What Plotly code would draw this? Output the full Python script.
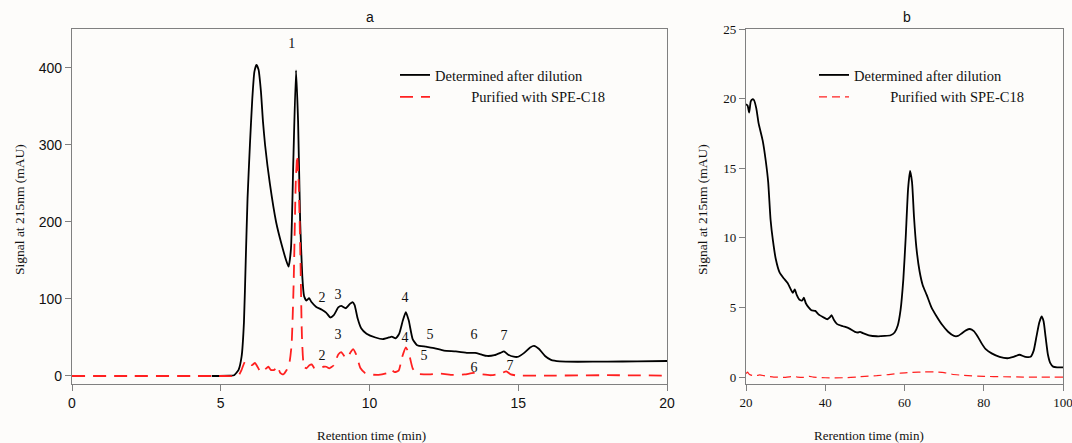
import plotly.graph_objects as go

# ---------- Panel a data ----------
a_det_x = [4.7, 5.3, 5.45, 5.6, 5.7, 5.78, 5.84, 5.9, 5.98, 6.06, 6.13, 6.2, 6.27, 6.35, 6.42, 6.49,
           6.65, 6.86, 7.05, 7.2, 7.28, 7.36, 7.44, 7.53, 7.6, 7.67, 7.74, 7.8, 7.88, 7.97, 8.05, 8.2,
           8.4, 8.55, 8.68, 8.8, 8.95, 9.05, 9.2, 9.35, 9.43, 9.5, 9.6, 9.72, 9.9, 10.2, 10.45, 10.65,
           10.75, 10.88, 11.0, 11.12, 11.22, 11.32, 11.45, 11.6, 11.9, 12.2, 12.5, 12.9, 13.3, 13.55,
           13.75, 13.95, 14.2, 14.4, 14.52, 14.65, 14.85, 15.0, 15.2, 15.4, 15.53, 15.7, 15.9, 16.1,
           16.4, 17.0, 18.0, 19.0, 20.0]
a_det_y = [0, 0.3, 1, 8, 25, 70, 150, 230, 300, 360, 395, 404, 398, 370, 330, 300,
           250, 200, 170, 150, 142, 165, 280, 397, 330, 200, 130, 104, 98, 101, 96, 90,
           86, 82, 76, 79, 89, 91, 88, 94, 96, 92, 75, 62, 55, 50, 48, 50,
           51, 49, 55, 72, 83, 72, 48, 40, 38, 36, 33, 32, 30, 30,
           28, 26, 27, 30, 32, 28, 25, 25, 30, 37, 39, 35, 26, 21,
           19, 18.5, 18.7, 19, 19.5]

a_pur_x = [0, 2.0, 4.0, 5.0, 5.45, 5.6, 5.7, 5.82, 5.95, 6.05, 6.15, 6.22, 6.35, 6.5, 6.6, 6.68,
           6.8, 6.9, 7.0, 7.1, 7.22, 7.3, 7.38, 7.45, 7.52, 7.57, 7.62, 7.68, 7.73, 7.8, 7.88, 7.98,
           8.06, 8.15, 8.3, 8.45, 8.55, 8.65, 8.8, 8.95, 9.05, 9.15, 9.25, 9.35, 9.45, 9.55, 9.7,
           9.85, 10.0, 10.3, 10.6, 10.72, 10.85, 10.98, 11.1, 11.22, 11.32, 11.45, 11.6, 12.0, 12.4,
           12.8, 13.2, 13.5, 13.8, 14.1, 14.4, 14.6, 14.75, 15.0, 16.0, 18.0, 20.0]
a_pur_y = [0, 0, 0, 0, 0, 1, 8, 19, 17, 14, 17, 13, 5, 9, 12, 8,
           8, 13, 4, 2, 8, 15, 40, 120, 250, 287, 250, 150, 50, 12, 10, 14,
           15, 10, 10, 12, 12, 10, 14, 28, 31, 26, 23, 30, 35, 28, 10,
           4, 2, 1.5, 4, 8, 5, 7, 25, 37, 30, 10, 3, 2, 3,
           1.5, 2, 4, 2, 1, 3, 6, 2, 0.5, 0.5, 1, 0.5]

# peak labels panel a
a_lab_det_text = ["1", "2", "3", "4", "5", "6", "7"]
a_lab_det_x = [7.39, 8.40, 8.94, 11.19, 12.03, 13.51, 14.52]
a_lab_det_y = [431, 100, 104, 100, 52, 52, 51]
a_lab_pur_text = ["2", "3", "4", "5", "6", "7"]
a_lab_pur_x = [8.40, 8.94, 11.19, 11.83, 13.51, 14.72]
a_lab_pur_y = [25, 52, 49, 25, 10, 12]

# ---------- Panel b data ----------
b_det_x = [20, 20.4, 20.8, 21.2, 21.6, 22, 22.6, 23.2, 24.2, 25, 25.6, 26.2, 26.8, 27.5, 28.5, 29.5,
           30.5, 31.3, 31.8, 32.3, 32.8, 33.5, 34.2, 34.6, 35.1, 35.8, 36.5, 37.5, 38.3, 39.5, 40.5,
           41.2, 41.6, 42.2, 43, 44.5, 46, 47.5, 48.3, 48.8, 49.5, 51, 53, 55, 56.5, 57.5, 58.3, 59,
           59.7, 60.3, 60.9, 61.4, 61.9, 62.4, 63, 63.8, 64.6, 65.6, 66.8, 68, 69.5, 71, 72.5, 73.5,
           74.5, 75.5, 76.5, 77.5, 78.5, 79.5, 80.5, 82, 84, 86, 87.5, 89, 90.5, 91.8, 92.6, 93.3,
           94, 94.6, 95.1, 95.6, 96.2, 96.8, 97.5, 98.5, 100]
b_det_y = [19.6, 19.5, 19.0, 19.8, 19.95, 19.9, 19.3, 18.2, 17.0, 15.5, 14.0, 11.3, 9.8, 8.5, 7.5, 7.1,
           6.75, 6.3, 6.05, 6.3, 5.9, 5.55, 5.5, 5.7, 5.3, 5.0, 4.8, 4.75, 4.5, 4.3, 4.15,
           4.3, 4.45, 4.1, 3.8, 3.65, 3.5, 3.25, 3.2, 3.25, 3.15, 3.0, 2.93, 2.95, 3.0, 3.2, 3.7, 4.8,
           7.0, 10.0, 13.5, 14.8, 14.0, 11.5, 9.3, 7.6, 6.6, 5.9, 5.0, 4.4, 3.75, 3.25, 2.95, 2.95,
           3.15, 3.35, 3.45, 3.3, 2.9, 2.4, 2.0, 1.7, 1.45, 1.35, 1.45, 1.6, 1.45, 1.45, 1.9, 2.9,
           3.9, 4.35, 4.0, 2.9, 1.6, 1.0, 0.75, 0.7, 0.7]

b_pur_x = [20, 20.4, 20.8, 21.5, 22.5, 23.5, 24.5, 25.5, 27, 30, 32, 33, 35, 36, 37, 40, 45, 48, 50,
           53, 56, 59, 62, 65, 68, 70, 72, 75, 80, 85, 90, 100]
b_pur_y = [0.25, 0.35, 0.2, 0.12, 0.1, 0.15, 0.1, 0.05, 0.0, -0.02, 0.05, 0.0, -0.02, 0.05, 0.0, -0.05,
           -0.05, 0.0, 0.05, 0.1, 0.18, 0.28, 0.33, 0.37, 0.36, 0.32, 0.2, 0.12, 0.05, 0.02, 0.0, 0.0]

name_det = "Determined after dilution"
name_pur_a = "\u00a0" * 10 + "Purified with SPE-C18"
name_pur_b = "\u00a0" * 10 + "Purified with SPE-C18"

W, H = 1072, 443
T, B = 29, 384
PH = B - T
SERIF = "Liberation Serif, Times New Roman, serif"
SANS = "Liberation Sans, Arial, sans-serif"
AXC = "#808080"
TXT = "#111111"


def py(p):
    return (B - p) / PH


fig = go.Figure()
fig.add_trace(go.Scatter(x=a_det_x, y=a_det_y, mode="lines", name=name_det,
                         line=dict(color="black", width=1.8, shape="spline", smoothing=0.5),
                         xaxis="x", yaxis="y", legend="legend"))
fig.add_trace(go.Scatter(x=a_pur_x, y=a_pur_y, mode="lines", name=name_pur_a,
                         line=dict(color="#ff2020", width=1.8, dash="13px,8px", shape="spline", smoothing=0.5),
                         xaxis="x", yaxis="y", legend="legend"))
fig.add_trace(go.Scatter(x=b_det_x, y=b_det_y, mode="lines", name=name_det,
                         line=dict(color="black", width=1.8, shape="spline", smoothing=0.5),
                         xaxis="x2", yaxis="y2", legend="legend2"))
fig.add_trace(go.Scatter(x=b_pur_x, y=b_pur_y, mode="lines", name=name_pur_b,
                         line=dict(color="#ff2020", width=1.2, dash="8px,5px", shape="spline", smoothing=0.5),
                         xaxis="x2", yaxis="y2", legend="legend2"))

fig.add_trace(go.Scatter(x=a_lab_det_x, y=a_lab_det_y, text=a_lab_det_text, mode="text",
                         textfont=dict(family=SERIF, size=14, color=TXT), showlegend=False,
                         xaxis="x", yaxis="y", hoverinfo="skip"))
fig.add_trace(go.Scatter(x=a_lab_pur_x, y=a_lab_pur_y, text=a_lab_pur_text, mode="text",
                         textfont=dict(family=SERIF, size=14, color=TXT), showlegend=False,
                         xaxis="x", yaxis="y", hoverinfo="skip"))

ax_common = dict(showline=True, mirror=True, linecolor=AXC, linewidth=1.2, ticks="outside",
                 tickcolor=AXC, ticklen=6, tickwidth=1, showgrid=False, zeroline=False,
                 automargin=False, ticklabeloverflow="allow")

x1d = [72 / W, 667 / W]
x2d = [746 / W, 1063 / W]

fig.update_layout(
    width=W, height=H,
    margin=dict(l=0, r=0, t=T, b=H - B, autoexpand=False),
    paper_bgcolor="#fdfcfa", plot_bgcolor="#fdfcfa",
    xaxis=dict(domain=x1d, range=[0, 20], tickvals=[0, 5, 10, 15, 20],
               tickfont=dict(family=SANS, size=14, color=TXT), anchor="y", **ax_common),
    yaxis=dict(domain=[0, 1], range=[-10.4, 450.6], tickvals=[0, 100, 200, 300, 400],
               tickfont=dict(family=SANS, size=14, color=TXT), anchor="x", **ax_common),
    xaxis2=dict(domain=x2d, range=[20, 100], tickvals=[20, 40, 60, 80, 100],
                tickfont=dict(family=SERIF, size=13, color=TXT), anchor="y2", **ax_common),
    yaxis2=dict(domain=[0, 1], range=[-0.5, 25], tickvals=[0, 5, 10, 15, 20, 25],
                tickfont=dict(family=SERIF, size=13, color=TXT), anchor="x2", **ax_common),
    legend=dict(x=395 / W, y=py(59), xref="paper", yref="paper",
                xanchor="left", yanchor="top", bgcolor="rgba(0,0,0,0)",
                font=dict(family=SERIF, size=14.5, color=TXT), tracegroupgap=0),
    legend2=dict(x=814 / W, y=py(59), xref="paper", yref="paper",
                 xanchor="left", yanchor="top", bgcolor="rgba(0,0,0,0)",
                 font=dict(family=SERIF, size=14.5, color=TXT), tracegroupgap=0),
    showlegend=True,
    annotations=[
        dict(text="a", x=370 / W, y=py(17), xref="paper", yref="paper", showarrow=False,
             font=dict(family=SANS, size=14, color=TXT), yanchor="middle"),
        dict(text="b", x=913 / W, y=py(17), xref="paper", yref="paper", showarrow=False,
             font=dict(family=SANS, size=14, color=TXT), yanchor="middle"),
        dict(text="Retention time (min)", x=371 / W, y=py(435), xref="paper", yref="paper",
             showarrow=False, font=dict(family=SERIF, size=13, color=TXT), yanchor="middle"),
        dict(text="Rerention time (min)", x=926 / W, y=py(435), xref="paper", yref="paper",
             showarrow=False, font=dict(family=SERIF, size=13, color=TXT), yanchor="middle"),
        dict(text="Signal at 215nm (mAU)", x=19 / W, y=py(210), xref="paper", yref="paper",
             showarrow=False, textangle=-90, font=dict(family=SERIF, size=13.5, color=TXT),
             xanchor="center", yanchor="middle"),
        dict(text="Signal at 215nm (mAU)", x=702 / W, y=py(210), xref="paper", yref="paper",
             showarrow=False, textangle=-90, font=dict(family=SERIF, size=13.5, color=TXT),
             xanchor="center", yanchor="middle"),
    ],
)

fig.write_html("out.html", config={"displayModeBar": False},
               post_script="document.body.style.margin='0px';document.body.style.overflow='hidden';")
